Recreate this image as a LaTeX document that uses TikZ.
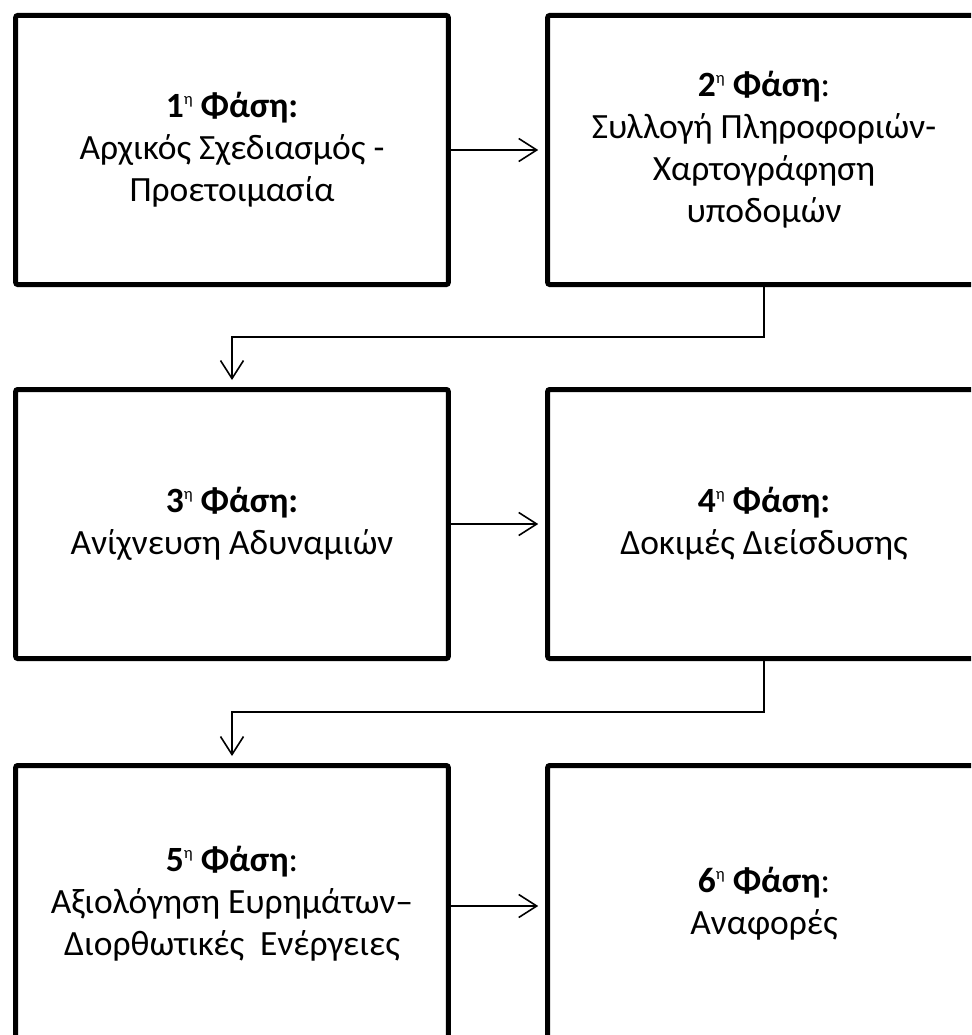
\documentclass[tikz,border=0pt]{standalone}
\usepackage{fontspec}
\setmainfont{Carlito}
\usetikzlibrary{arrows.meta}
\newcommand{\phsup}{\raisebox{13.5pt}{\fontsize{16.5}{16.5}\selectfont\mdseries η}}
\tikzset{
  phasebox/.style={draw, line width=5pt, rounded corners=2pt, minimum width=432.6pt,
    minimum height=269pt, inner sep=0pt, align=center,
    font=\fontsize{35.5}{42}\selectfont},
  lastrow/.style={minimum height=277pt},
  conn/.style={line width=1.6pt, shorten >=7pt,
    -{Straight Barb[length=18pt,width=23pt,line width=1.6pt]}}
}
\begin{document}
\begin{tikzpicture}[x=1pt,y=-1pt]
\clip (0,0) rectangle (971,1035);
\fill[white] (0,0) rectangle (971,1035);
\node[phasebox] (b1) at (232,150) {\textbf{1\phsup{} Φάση:}\\Αρχικός Σχεδιασμός -\\Προετοιμασία};
\node[phasebox] (b2) at (764,150) {\textbf{2\phsup{} Φάση}:\\Συλλογή Πληροφοριών-\\Χαρτογράφηση\\υποδομών};
\node[phasebox] (b3) at (232,524) {\textbf{3\phsup{} Φάση:}\\Ανίχνευση Αδυναμιών};
\node[phasebox] (b4) at (764,524) {\textbf{4\phsup{} Φάση:}\\Δοκιμές Διείσδυσης};
\node[phasebox,lastrow] (b5) at (232,904) {\textbf{5\phsup{} Φάση}:\\Αξιολόγηση Ευρημάτων–\\Διορθωτικές\ \ Ενέργειες};
\node[phasebox,lastrow] (b6) at (764,904) {\textbf{6\phsup{} Φάση}:\\Αναφορές};
\draw[conn] (b1.east) -- (b2.west);
\draw[conn] (b3.east) -- (b4.west);
\draw[conn] ([yshift=-2pt]b5.east) -- ([yshift=-2pt]b6.west);
\draw[conn] (b2.south) -- ++(0,50) -| (b3.north);
\draw[conn] (b4.south) -- ++(0,51) -| (b5.north);
\end{tikzpicture}
\end{document}
